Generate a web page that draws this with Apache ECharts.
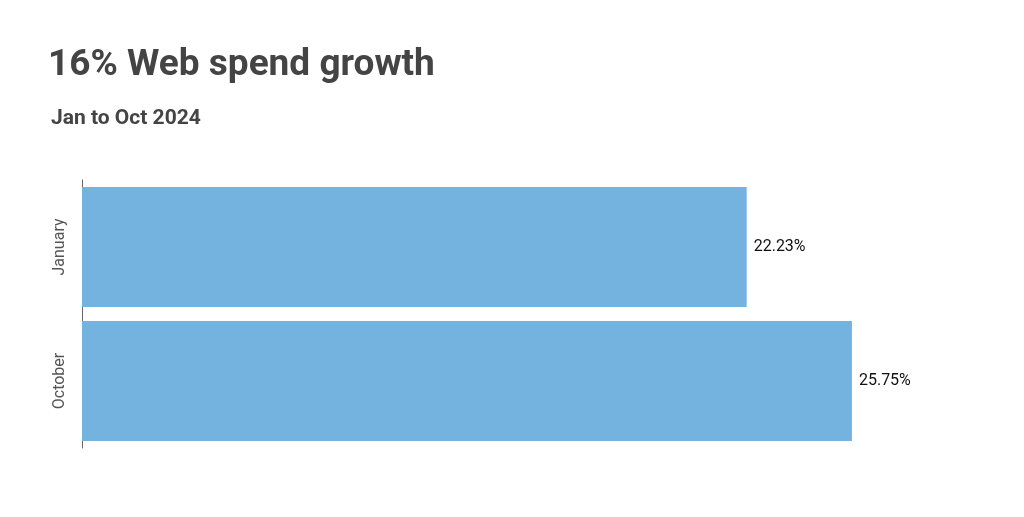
<!DOCTYPE html>
<html><head><meta charset="utf-8">
<script src="https://cdn.jsdelivr.net/npm/echarts@6/dist/echarts.min.js"></script>
<style>html,body{margin:0;padding:0;background:#fff}#c{width:1024px;height:517px}</style>
</head><body><div id="c"></div>
<script>
const categories = ["January", "October"];
const values = [22.23, 25.75];
const chart = echarts.init(document.getElementById('c'));
chart.setOption({
  backgroundColor: '#fff',
  title: [
    {text: '16% Web spend growth', left: 43, top: 42, textStyle: {fontFamily: 'Roboto', fontWeight: 'bold', fontSize: 37, color: '#444'}},
    {text: 'Jan to Oct 2024', left: 46, top: 103, textStyle: {fontFamily: 'Roboto', fontWeight: 'bold', fontSize: 21, color: '#444'}}
  ],
  grid: {left: 82, right: 45, top: 180, bottom: 69},
  xAxis: {type: 'value', min: 0, max: 30, show: false},
  yAxis: {type: 'category', data: categories, inverse: true,
    axisLine: {lineStyle: {color: '#666'}}, axisTick: {show: false},
    axisLabel: {rotate: 90, fontFamily: 'Roboto', fontSize: 16, color: '#555', margin: 14}},
  series: [{type: 'bar', data: values, barWidth: 120, itemStyle: {color: '#74b3e0'},
    label: {show: true, position: 'right', formatter: p => p.value.toFixed(2) + '%', fontFamily: 'Roboto', fontSize: 16, color: '#111', distance: 7}}]
});
</script></body></html>
